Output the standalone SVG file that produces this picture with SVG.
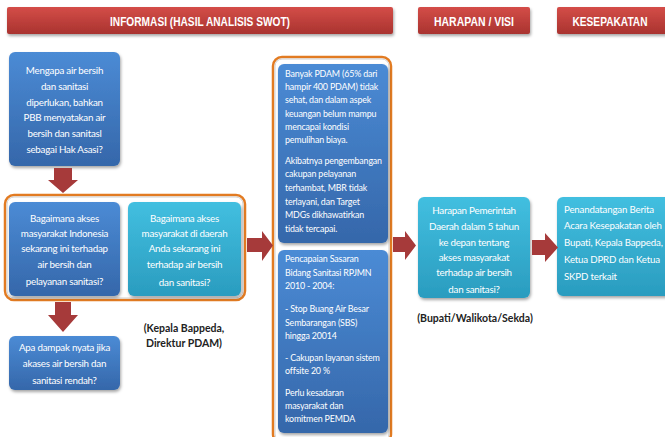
<svg xmlns="http://www.w3.org/2000/svg" width="665" height="437" viewBox="0 0 665 437">
<defs>
<linearGradient id="blueG" x1="0" y1="0" x2="0" y2="1"><stop offset="0" stop-color="#4b8bd5"/><stop offset="1" stop-color="#3567aa"/></linearGradient>
<linearGradient id="tealG" x1="0" y1="0" x2="0" y2="1"><stop offset="0" stop-color="#42bfe0"/><stop offset="1" stop-color="#2a9cbf"/></linearGradient>
<linearGradient id="redG" x1="0" y1="0" x2="0" y2="1"><stop offset="0" stop-color="#d44d48"/><stop offset="1" stop-color="#a9332f"/></linearGradient>
<filter id="sh" x="-10%" y="-10%" width="125%" height="125%"><feDropShadow dx="1" dy="2" stdDeviation="1.5" flood-color="#000" flood-opacity="0.35"/></filter>
</defs>
<style>
.hdr{fill:url(#redG);filter:url(#sh)}
.ht{font-family:"Liberation Sans Narrow","Liberation Sans",Arial,sans-serif;font-weight:bold;font-size:13.5px;fill:#fff;text-anchor:middle}
.blue{fill:url(#blueG);filter:url(#sh)}
.teal{fill:url(#tealG);filter:url(#sh)}
.t{font-family:Lato,"Liberation Sans",sans-serif;font-size:9.8px;letter-spacing:-0.25px;fill:#fff;text-anchor:middle}
.tl{font-family:Lato,"Liberation Sans",sans-serif;font-size:8.9px;letter-spacing:-0.17px;fill:#fff}
.tr{font-family:Lato,"Liberation Sans",sans-serif;font-size:9.7px;letter-spacing:-0.17px;fill:#fff}
.lbl{font-family:Lato,"Liberation Sans",sans-serif;font-weight:bold;font-size:10.5px;fill:#222;text-anchor:middle}
.org{fill:#fff;stroke:#e27b22;stroke-width:2.5}
.orgin{fill:none;stroke:#cfcfcf;stroke-width:1}
.arr{fill:#a63a3a}
</style>

<g id="headers">
<g id="h-informasi"><rect class="hdr" x="7" y="7" width="386" height="27" rx="2"/><text class="ht" x="200" y="25.5" textLength="180" lengthAdjust="spacingAndGlyphs">INFORMASI (HASIL ANALISIS SWOT)</text></g>
<g id="h-harapan"><rect class="hdr" x="418" y="7" width="112" height="27" rx="2"/><text class="ht" x="474" y="25.5" textLength="80" lengthAdjust="spacingAndGlyphs">HARAPAN / VISI</text></g>
<g id="h-kesepakatan"><rect class="hdr" x="557" y="7" width="112" height="27" rx="2"/><text class="ht" x="610" y="25.5" textLength="75" lengthAdjust="spacingAndGlyphs">KESEPAKATAN</text></g>
</g>

<g id="n-mengapa">
<rect class="blue" x="9" y="52" width="111" height="114" rx="6"/>
<text class="t" x="64.5"><tspan x="64.5" y="74">Mengapa air bersih</tspan><tspan x="64.5" y="90">dan sanitasi</tspan><tspan x="64.5" y="106">diperlukan, bahkan</tspan><tspan x="64.5" y="121">PBB menyatakan air</tspan><tspan x="64.5" y="137">bersih dan sanitasl</tspan><tspan x="64.5" y="153">sebagai Hak Asasi?</tspan></text>
</g>

<g id="g-group1">
<rect class="org" x="5" y="195" width="240" height="105" rx="9"/>
<rect class="orgin" x="7" y="197" width="236" height="101" rx="7"/>
</g>
<g id="n-indonesia">
<rect class="blue" x="9" y="202" width="111" height="94" rx="6"/>
<text class="t"><tspan x="64.5" y="222">Bagaimana akses</tspan><tspan x="64.5" y="237">masyarakat Indonesia</tspan><tspan x="64.5" y="252">sekarang ini terhadap</tspan><tspan x="64.5" y="268">air bersih dan</tspan><tspan x="64.5" y="285">pelayanan sanitasi?</tspan></text>
</g>
<g id="n-daerah">
<rect class="teal" x="128" y="202" width="113" height="94" rx="6"/>
<text class="t"><tspan x="184.5" y="222">Bagaimana akses</tspan><tspan x="184.5" y="237">masyarakat di daerah</tspan><tspan x="184.5" y="252">Anda sekarang ini</tspan><tspan x="184.5" y="268">terhadap air bersih</tspan><tspan x="184.5" y="286">dan sanitasi?</tspan></text>
</g>

<g id="n-dampak">
<rect class="blue" x="9" y="336" width="111" height="54" rx="6"/>
<text class="t"><tspan x="64.5" y="351">Apa dampak nyata jika</tspan><tspan x="64.5" y="367">akases air bersih dan</tspan><tspan x="64.5" y="384">sanitasi rendah?</tspan></text>
</g>

<g id="l-kepala">
<text class="lbl"><tspan x="184" y="332">(Kepala Bappeda,</tspan><tspan x="184" y="347">Direktur PDAM)</tspan></text>
</g>

<g id="g-group2">
<rect class="org" x="273" y="57" width="118" height="386" rx="9"/>
<rect class="orgin" x="275" y="59" width="114" height="382" rx="7"/>
</g>
<g id="n-pdam">
<rect class="blue" x="278" y="64" width="110" height="179" rx="6"/>
<text class="tl"><tspan x="285" y="77">Banyak PDAM (65% dari</tspan><tspan x="285" y="90">hampir 400 PDAM) tidak</tspan><tspan x="285" y="103">sehat, dan dalam aspek</tspan><tspan x="285" y="117">keuangan belum mampu</tspan><tspan x="285" y="130">mencapai kondisi</tspan><tspan x="285" y="143">pemulihan biaya.</tspan><tspan x="285" y="164">Akibatnya pengembangan</tspan><tspan x="285" y="177">cakupan pelayanan</tspan><tspan x="285" y="191">terhambat, MBR tidak</tspan><tspan x="285" y="205">terlayani, dan Target</tspan><tspan x="285" y="218">MDGs dikhawatirkan</tspan><tspan x="285" y="232">tidak tercapai.</tspan></text>
</g>
<g id="n-rpjmn">
<rect class="blue" x="278" y="250" width="110" height="183" rx="6"/>
<text class="tl"><tspan x="285" y="262">Pencapaian Sasaran</tspan><tspan x="285" y="276">Bidang Sanitasi RPJMN</tspan><tspan x="285" y="289">2010 - 2004:</tspan><tspan x="285" y="312">- Stop Buang Air Besar</tspan><tspan x="285" y="326">Sembarangan (SBS)</tspan><tspan x="285" y="339">hingga 20014</tspan><tspan x="285" y="361">- Cakupan layanan sistem</tspan><tspan x="285" y="374">offsite 20 %</tspan><tspan x="285" y="396">Perlu kesadaran</tspan><tspan x="285" y="409">masyarakat dan</tspan><tspan x="285" y="422">komitmen PEMDA</tspan></text>
</g>

<g id="n-harapan">
<rect class="teal" x="418" y="197" width="112" height="101" rx="6"/>
<text class="t"><tspan x="474" y="214">Harapan Pemerintah</tspan><tspan x="474" y="230">Daerah dalam 5 tahun</tspan><tspan x="474" y="246">ke depan tentang</tspan><tspan x="474" y="261">akses masyarakat</tspan><tspan x="474" y="276">terhadap air bersih</tspan><tspan x="474" y="293">dan sanitasi?</tspan></text>
</g>
<g id="l-bupati">
<text class="lbl" x="475" y="322">(Bupati/Walikota/Sekda)</text>
</g>

<g id="n-kesepakatan">
<rect class="teal" x="557" y="197" width="115" height="99" rx="6"/>
<text class="tr"><tspan x="564" y="213">Penandatangan Berita</tspan><tspan x="564" y="229">Acara Kesepakatan oleh</tspan><tspan x="564" y="246">Bupati, Kepala Bappeda,</tspan><tspan x="564" y="263">Ketua DPRD dan Ketua</tspan><tspan x="564" y="280">SKPD terkait</tspan></text>
</g>

<g id="connectors">
<polygon class="arr" points="54,168 72,168 72,180 78,180 63,193 48,180 54,180"/>
<polygon class="arr" points="55,302 71,302 71,315 78,315 63,332 48,315 55,315"/>
<polygon class="arr" points="247,238 262,238 262,231 273,245.5 262,261 262,252 247,252"/>
<polygon class="arr" points="393,237 405,237 405,231 416,245.5 405,260 405,252 393,252"/>
<polygon class="arr" points="532,240 545,240 545,233 558,247.5 545,262 545,255 532,255"/>
</g>
</svg>
